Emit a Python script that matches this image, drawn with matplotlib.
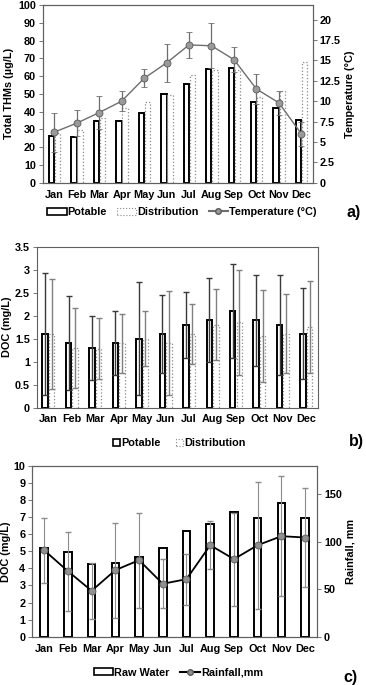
import numpy as np
import matplotlib
matplotlib.use('Agg')
import matplotlib.pyplot as plt
from matplotlib.ticker import FuncFormatter
from matplotlib.patches import Patch
from matplotlib.lines import Line2D

months = ['Jan', 'Feb', 'Mar', 'Apr', 'May', 'Jun',
          'Jul', 'Aug', 'Sep', 'Oct', 'Nov', 'Dec']

# a) total THMs and temperature
thm_potable = [26.5, 25.5, 34.5, 34.9, 39.4, 49.9, 55.7, 63.8, 64.5, 45.4, 42.0, 35.3]
thm_distrib = [27.8, 29.8, 36.4, 41.8, 45.2, 49.3, 60.4, 63.2, 63.4, 48.4, 51.4, 67.7]
temperature = [6.2, 7.3, 8.6, 10.0, 12.8, 14.7, 16.9, 16.8, 15.1, 11.5, 9.8, 6.0]
temp_err = [2.4, 1.6, 2.0, 1.2, 1.1, 2.35, 1.55, 2.75, 1.5, 1.8, 1.5, 1.5]

# b) DOC potable / distribution
doc_potable = [1.6, 1.4, 1.3, 1.4, 1.5, 1.6, 1.8, 1.9, 2.1, 1.9, 1.8, 1.6]
doc_potable_err = [1.33, 1.03, 0.70, 0.69, 1.22, 0.84, 0.72, 0.91, 1.02, 0.99, 1.09, 0.99]
doc_distrib = [1.6, 1.3, 1.28, 1.4, 1.5, 1.4, 1.6, 1.8, 1.85, 1.55, 1.6, 1.75]
doc_distrib_err = [1.2, 0.87, 0.66, 0.64, 0.6, 1.13, 0.66, 0.77, 1.14, 1.0, 0.86, 1.01]

# c) raw water DOC and rainfall
doc_raw = [5.18, 4.98, 4.28, 4.32, 4.67, 5.18, 6.19, 6.58, 7.29, 6.97, 7.81, 6.97]
rainfall = [91.2, 69.1, 48.4, 70.2, 80.7, 55.8, 60.7, 96.5, 81.8, 96.5, 106.0, 104.6]
rain_err = [34.5, 41.7, 29.5, 50.0, 50.0, 26.0, 27.0, 25.6, 49.0, 67.0, 63.0, 52.0]

plt.rcParams['font.family'] = ['Liberation Sans', 'DejaVu Sans']
plt.rcParams['font.weight'] = 'bold'
plt.rcParams['font.size'] = 7.8
plt.rcParams['axes.labelweight'] = 'bold'

fmt = FuncFormatter(lambda v, p: '%g' % v)
frame_col = '#606060'


def style(ax):
    for s in ax.spines.values():
        s.set_color(frame_col)
        s.set_linewidth(0.8)
    ax.tick_params(axis='x', length=0, pad=5)
    ax.tick_params(axis='y', length=3, width=0.6, color=frame_col, pad=2)
    ax.set_xlim(-0.5, 11.5)
    ax.set_xticks(x)
    ax.set_xticklabels(months)


x = np.arange(12)
fig = plt.figure(figsize=(3.66, 6.85), dpi=100)

# ---------------- a)
ax = fig.add_axes([0.1175, 0.7333, 0.7365, 0.2594])
w = 0.24
ax.bar(x - 0.12, thm_potable, w, facecolor='white', edgecolor='black', linewidth=1.4, zorder=2)
ax.bar(x + 0.15, thm_distrib, w, facecolor='white', edgecolor='#8a8a8a', linewidth=0.9,
       linestyle=':', zorder=2)
ax.set_ylim(0, 100)
ax.set_yticks(range(0, 101, 10))
ax.set_ylabel('Total THMs (µg/L)', labelpad=3)
style(ax)
ax2 = ax.twinx()
ax2.errorbar(x, temperature, yerr=temp_err, color='#6e6e6e', lw=1, marker='o', ms=5,
             mfc='#9a9a9a', mec='#5a5a5a', mew=0.6, ecolor='#6e6e6e', elinewidth=0.9,
             capsize=2.5, zorder=3)
ax2.set_ylim(0, 21.8)
ax2.set_yticks(np.arange(0, 20.1, 2.5))
ax2.yaxis.set_major_formatter(fmt)
ax2.set_ylabel('Temperature (°C)', labelpad=3)
style(ax2)
handles = [Patch(facecolor='white', edgecolor='black', linewidth=1.2),
           Patch(facecolor='white', edgecolor='#8a8a8a', linewidth=0.8, linestyle=':'),
           Line2D([], [], color='#6e6e6e', marker='o', ms=4, mfc='#9a9a9a', mec='#5a5a5a')]
fig.legend(handles, ['Potable', 'Distribution', 'Temperature (°C)'], loc='center',
           bbox_to_anchor=(0.497, 0.6905), ncol=3, frameon=False, handlelength=1.8,
           handleheight=0.6, handletextpad=0.1, columnspacing=0.9)
fig.text(0.965, 0.6905, 'a)', fontsize=11.5, ha='center', va='center')

# ---------------- b)
ax = fig.add_axes([0.1003, 0.4051, 0.7687, 0.235])
w = 0.23
ax.bar(x - 0.14, doc_potable, w, facecolor='white', edgecolor='black', linewidth=1.4, zorder=2)
ax.bar(x + 0.14, doc_distrib, w, facecolor='white', edgecolor='#8a8a8a', linewidth=0.9,
       linestyle=':', zorder=2)
ax.errorbar(x - 0.14, doc_potable, yerr=doc_potable_err, fmt='none', ecolor='#3a3a3a',
            elinewidth=1.0, capsize=2.2, zorder=3)
ax.errorbar(x + 0.14, doc_distrib, yerr=doc_distrib_err, fmt='none', ecolor='#808080',
            elinewidth=1.0, capsize=2.2, zorder=3)
ax.set_ylim(0, 3.5)
ax.set_yticks(np.arange(0, 3.51, 0.5))
ax.yaxis.set_major_formatter(fmt)
ax.set_ylabel('DOC (mg/L)', labelpad=2)
style(ax)
handles = [Patch(facecolor='white', edgecolor='black', linewidth=1.2),
           Patch(facecolor='white', edgecolor='#8a8a8a', linewidth=0.8, linestyle=':')]
fig.legend(handles, ['Potable', 'Distribution'], loc='center',
           bbox_to_anchor=(0.49, 0.353), ncol=2, frameon=False, handlelength=0.6,
           handleheight=0.6, handletextpad=0.1, columnspacing=1.5)
fig.text(0.975, 0.355, 'b)', fontsize=11.5, ha='center', va='center')

# ---------------- c)
ax = fig.add_axes([0.0883, 0.0705, 0.7777, 0.2492])
ax.bar(x, doc_raw, 0.32, facecolor='white', edgecolor='black', linewidth=1.4, zorder=2)
ax.set_ylim(0, 10)
ax.set_yticks(range(0, 11))
ax.set_ylabel('DOC (mg/L)', labelpad=2)
style(ax)
ax2 = ax.twinx()
ax2.errorbar(x, rainfall, yerr=rain_err, fmt='none', ecolor='#8c8c8c', elinewidth=0.8,
             capsize=2.5, zorder=1)
ax2.plot(x, rainfall, color='black', lw=1.3, marker='o', ms=5, mfc='#909090',
         mec='#5a5a5a', mew=0.6, zorder=3)
ax2.set_ylim(0, 180)
ax2.set_yticks([0, 50, 100, 150])
ax2.set_ylabel('Rainfall, mm', labelpad=3)
style(ax2)
handles = [Patch(facecolor='white', edgecolor='black', linewidth=1.2),
           Line2D([], [], color='black', marker='o', ms=4, mfc='#909090', mec='#5a5a5a')]
fig.legend(handles, ['Raw Water', 'Rainfall,mm'], loc='center',
           bbox_to_anchor=(0.487, 0.018), ncol=2, frameon=False, handlelength=1.8,
           handleheight=0.6, handletextpad=0.1, columnspacing=1.0)
fig.text(0.958, 0.011, 'c)', fontsize=11.5, ha='center', va='center')

fig.savefig('out.png', dpi=100)
